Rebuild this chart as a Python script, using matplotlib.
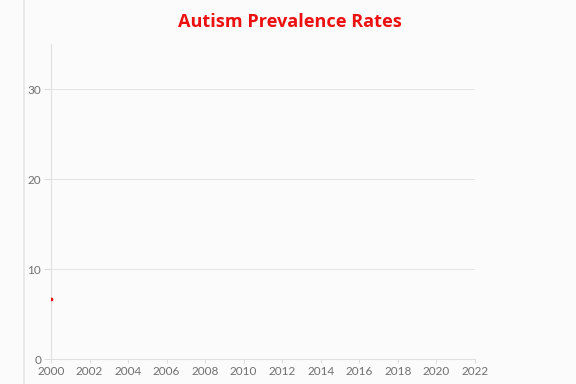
import matplotlib.pyplot as plt
from matplotlib.lines import Line2D

# data (only the first frame is shown)
years = [2000]
rates = [6.7]

x_ticks = list(range(2000, 2023, 2))
y_ticks = [0, 10, 20, 30]

plt.rcParams['font.family'] = ['Lato', 'DejaVu Sans']

fig = plt.figure(figsize=(5.76, 3.84), dpi=100, facecolor='#fbfbfb')
ax = fig.add_axes([0.0885, 0.065, 0.736, 0.82])
ax.set_facecolor('#fbfbfb')

ax.scatter(years, rates, s=3, color='#ee1010', zorder=3)

ax.set_xlim(2000, 2022)
ax.set_ylim(0, 35)
ax.set_xticks(x_ticks)
ax.set_yticks(y_ticks)
ax.tick_params(colors='#d8d8d8', labelcolor='#707070', labelsize=8.5, length=3, width=0.6, pad=2)
ax.tick_params(axis='y', length=5)

ax.grid(axis='y', color='#e4e4e4', lw=0.7)
ax.set_axisbelow(True)
for s in ['top', 'right']:
    ax.spines[s].set_visible(False)
for s in ['left', 'bottom']:
    ax.spines[s].set_color('#e0e0e0')
    ax.spines[s].set_linewidth(0.8)

fig.text(0.503, 0.93, 'Autism Prevalence Rates', ha='center', va='baseline',
         color='#ee1010', fontsize=13.1, fontweight='bold', family=['Open Sans', 'DejaVu Sans'])

# faint border line at the left of the picture
fig.add_artist(Line2D([0.042, 0.042], [0, 1], color='#e6e6e6', lw=1.2, transform=fig.transFigure))

fig.savefig('out.png', dpi=100, facecolor=fig.get_facecolor())
